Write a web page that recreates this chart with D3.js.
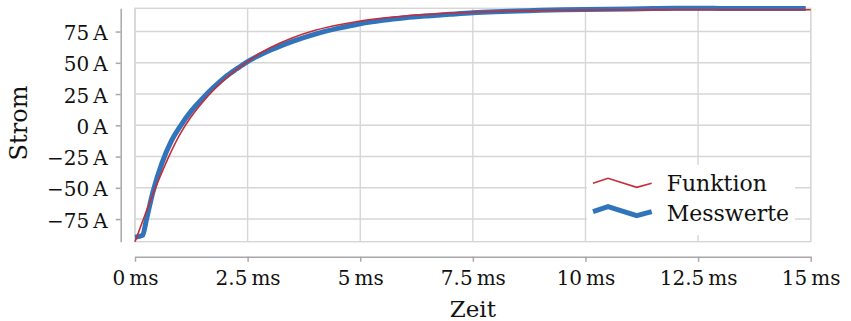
<!DOCTYPE html>
<html>
<head>
<meta charset="utf-8">
<script src="https://cdn.jsdelivr.net/npm/d3@7"></script>
<style>
  html, body { margin: 0; padding: 0; background: #fff; }
  svg { display: block; }
  text { font-family: "DejaVu Serif", "Liberation Serif", serif; fill: #111; }
</style>
</head>
<body>
<svg id="chart" width="851" height="321"></svg>
<script>
// Zeit in ms, Strom in A
const tFunktion = [0, 0.25, 0.5, 0.75, 1.0, 1.25, 1.5, 1.75, 2.0, 2.25, 2.5, 2.75, 3.0, 3.5, 4.0, 4.5, 5.0, 6.0, 7.0, 8.0, 9.0, 10, 11, 12, 13, 14, 15];
const iFunktion = [-93.1, -69, -46, -25, -7, 7, 18.5, 28.5, 37, 44.5, 51, 57, 62, 70, 76, 80.2, 83.5, 87.5, 89.8, 91, 91.8, 92.1, 92.3, 92.4, 92.5, 92.5, 92.5];

const tMess = [0, 0.17, 0.25, 0.4, 0.6, 0.8, 1.0, 1.25, 1.5, 1.75, 2.0, 2.25, 2.5, 2.75, 3.0, 3.25, 3.5, 4.0, 4.5, 5.0, 5.5, 6.0, 6.5, 7.0, 7.5, 8.0, 8.5, 9.0, 9.5, 10, 10.5, 11, 11.5, 12, 12.5, 13, 13.5, 14, 14.5, 14.89];
const iMess = [-89.5, -88, -76, -53, -30, -13, -1, 11.5, 21.5, 30.5, 38.5, 45, 51, 55.8, 60, 63.8, 67.2, 73, 77.5, 81.3, 84, 86, 87.5, 88.8, 90, 90.8, 91.4, 92, 92.4, 92.7, 92.9, 93.1, 93.4, 93.6, 93.6, 93.5, 93.4, 93.4, 93.4, 93.4];

const xTicks = [0, 2.5, 5, 7.5, 10, 12.5, 15];
const yTicks = [-75, -50, -25, 0, 25, 50, 75];
const seriesNames = ["Funktion", "Messwerte"];
const xTitle = "Zeit";
const yTitle = "Strom";

const colRed = "#c62d36";
const colBlue = "#3174bb";
const colGrid = "#d6d6d6";
const colAxis = "#a8a8a8";

const svg = d3.select("#chart");

const funktion = tFunktion.map((t, i) => ({ t, v: iFunktion[i] }));
const mess = tMess.map((t, i) => ({ t, v: iMess[i] }));

const x = d3.scaleLinear().domain([0, 15]).range([135, 810.7]);
const y = d3.scaleLinear()
  .domain(d3.extent(iFunktion.concat(iMess)))
  .range([241.7, 8.3]);

const [px0, px1] = x.range();
const [py0, py1] = y.range();

// Gitter
const grid = svg.append("g");
grid.selectAll("line.gx").data(xTicks).join("line")
  .attr("x1", d => x(d)).attr("x2", d => x(d))
  .attr("y1", py1).attr("y2", py0)
  .attr("stroke", colGrid).attr("stroke-width", 1.4);
grid.selectAll("line.gy").data(yTicks).join("line")
  .attr("x1", px0).attr("x2", px1)
  .attr("y1", d => y(d)).attr("y2", d => y(d))
  .attr("stroke", colGrid).attr("stroke-width", 1.4);
grid.append("rect")
  .attr("x", px0).attr("y", py1)
  .attr("width", px1 - px0).attr("height", py0 - py1)
  .attr("fill", "none").attr("stroke", colGrid).attr("stroke-width", 1.4);

// Kurven
const line = d3.line().x(d => x(d.t)).y(d => y(d.v)).curve(d3.curveMonotoneX);
svg.append("path").datum(mess)
  .attr("d", line).attr("fill", "none")
  .attr("stroke", colBlue).attr("stroke-width", 5).attr("stroke-linejoin", "round");
svg.append("path").datum(funktion)
  .attr("d", line).attr("fill", "none")
  .attr("stroke", colRed).attr("stroke-width", 1.6);

// Achsen
const fmtNum = d => (d < 0 ? "\u2212" : "") + String(Math.abs(d));

const yAxis = d3.axisLeft(y).tickValues(yTicks).tickSize(5).tickSizeOuter(0)
  .tickFormat(d => fmtNum(d) + "\u2009A");
const gy = svg.append("g").attr("transform", "translate(120.7,0)").call(yAxis);
gy.select(".domain").attr("stroke", colAxis).attr("stroke-width", 1.5);
gy.selectAll(".tick line").attr("stroke", colAxis).attr("stroke-width", 1.5);
gy.selectAll(".tick text")
  .attr("x", -13).attr("dy", null).attr("y", 8)
  .attr("font-size", 20).attr("font-family", "DejaVu Serif").attr("fill", "#111");

const xAxis = d3.axisBottom(x).tickValues(xTicks).tickSize(5).tickSizeOuter(0)
  .tickFormat(d => fmtNum(d) + "\u2009ms");
const gx = svg.append("g").attr("transform", "translate(0,256.7)").call(xAxis);
gx.select(".domain").attr("stroke", colAxis).attr("stroke-width", 1.5);
gx.selectAll(".tick line").attr("stroke", colAxis).attr("stroke-width", 1.5);
gx.selectAll(".tick text")
  .attr("y", 28).attr("dy", null)
  .attr("font-size", 20).attr("font-family", "DejaVu Serif").attr("fill", "#111");

svg.append("text")
  .attr("x", (px0 + px1) / 2).attr("y", 317)
  .attr("text-anchor", "middle").attr("font-size", 23)
  .text(xTitle);
svg.append("text")
  .attr("transform", `translate(27,${(py0 + py1) / 2 - 2}) rotate(-90)`)
  .attr("text-anchor", "middle").attr("font-size", 24)
  .text(yTitle);

// Legende
const legend = svg.append("g");
legend.append("rect")
  .attr("x", 587).attr("y", 165).attr("width", 208).attr("height", 70)
  .attr("fill", "#fff");
const zig = [[593, 0], [608, -5], [636.7, 4], [651.7, 0]];
const legendRows = [
  { name: seriesNames[0], color: colRed, width: 1.6, yBase: 183.3, yText: 191 },
  { name: seriesNames[1], color: colBlue, width: 5, yBase: 211.7, yText: 220.7 }
];
legendRows.forEach(r => {
  legend.append("path")
    .attr("d", d3.line()(zig.map(([px, dy]) => [px, r.yBase + dy])))
    .attr("fill", "none").attr("stroke", r.color).attr("stroke-width", r.width);
  legend.append("text")
    .attr("x", 666.7).attr("y", r.yText).attr("font-size", 22)
    .text(r.name);
});
</script>
</body>
</html>
